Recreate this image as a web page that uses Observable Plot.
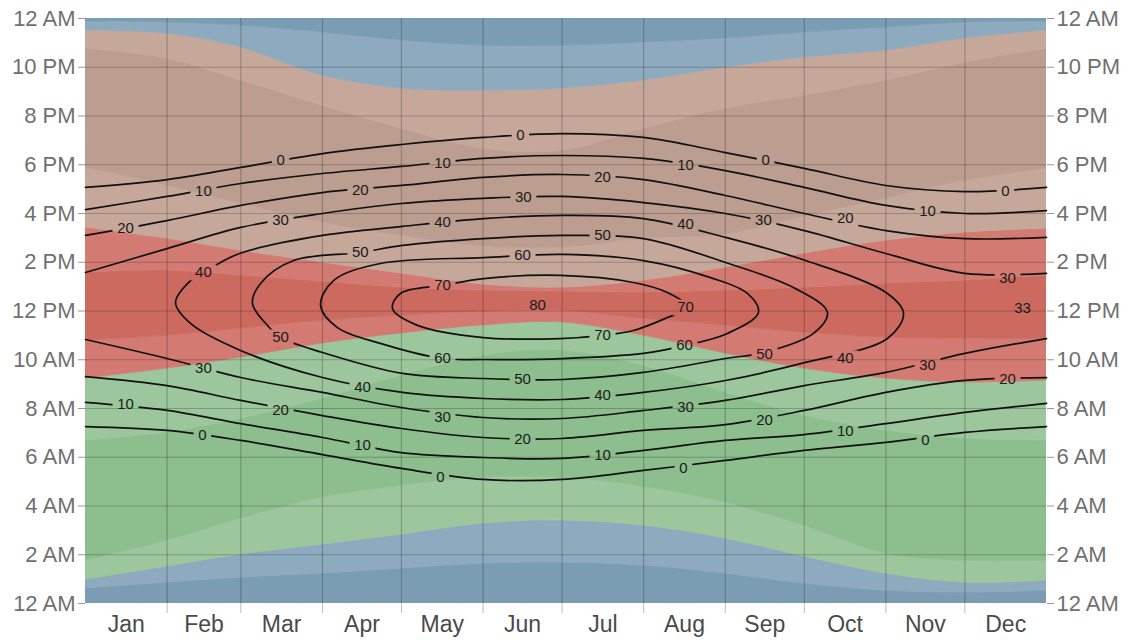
<!DOCTYPE html>
<html><head><meta charset="utf-8">
<script src="https://cdn.jsdelivr.net/npm/d3@7"></script>
<script src="https://cdn.jsdelivr.net/npm/@observablehq/plot@0.6"></script>
<style>
html,body{margin:0;padding:0;background:#fff;}
#chart{position:absolute;left:0;top:0;}
</style></head><body><div id="chart"></div>
<script>
// ---------- axis data ----------
const monthNames = ["Jan","Feb","Mar","Apr","May","Jun","Jul","Aug","Sep","Oct","Nov","Dec"];
const monthStarts = [0,31,59,90,120,151,181,212,243,273,304,334,365];
const monthMids = [15.5,45,74.5,105,135.5,166,196.5,227.5,258,288.5,319,349.5];
const monthBoundaries = [31,59,90,120,151,181,212,243,273,304,334];
const hourTicks = [0,2,4,6,8,10,12,14,16,18,20,22,24];
const hourLabels = ["12 AM","2 AM","4 AM","6 AM","8 AM","10 AM","12 PM","2 PM","4 PM","6 PM","8 PM","10 PM","12 AM"];

// ---------- azimuth band boundaries (hour of day, at each month start) ----------
const bN_NEa  = [0.62,0.86,1.07,1.23,1.44,1.64,1.68,1.56,1.23,0.82,0.53,0.45,0.53];
const bNEa_NEb= [0.98,1.52,2.01,2.42,2.83,3.28,3.41,3.20,2.67,1.93,1.23,0.86,0.94];
const bNEb_E  = [1.76,2.58,3.49,4.35,4.84,5.17,5.17,4.80,4.14,3.20,2.05,1.76,1.76];
const bE_SEa  = [6.69,7.02,7.59,8.41,9.35,10.17,10.38,9.76,8.66,7.71,7.10,6.77,6.69];
const bSEa_SEb= [9.23,9.64,10.09,10.67,11.08,11.41,11.53,10.99,10.26,9.64,9.23,9.07,9.15];
const bSEb_S  = [10.79,10.99,11.28,11.61,11.82,11.98,12.02,11.69,11.41,11.12,10.91,10.87,10.87];
const bS_SWa  = [13.58,13.66,13.46,13.21,12.96,12.84,12.80,12.76,12.84,12.96,13.13,13.25,13.46];
const bSWa_SWb= [15.43,14.97,14.48,13.99,13.54,13.09,12.96,13.25,13.78,14.36,14.89,15.22,15.38];
const bSWb_W  = [17.89,17.15,16.41,15.63,15.10,14.65,14.61,14.97,15.14,15.88,16.62,17.35,17.85];
const bW_NWa  = [22.77,22.36,21.46,20.43,19.49,18.67,18.58,19.49,20.31,20.84,21.46,22.19,22.77];
const bNWa_NWb= [23.51,23.38,22.81,21.66,21.13,21.05,21.13,21.46,21.99,22.40,22.69,23.18,23.51];
const bNWb_N  = [23.88,23.84,23.71,23.43,23.10,22.89,22.89,23.02,23.18,23.43,23.63,23.84,23.88];

const bandColors = ["#7b9db4","#8eaabf","#9cc79c","#8dbe8d","#9cc79c","#d37b73","#cc6a5f","#d37b73","#c6a89b","#bb9e8f","#c6a89b","#8eaabf","#7b9db4"];

// ---------- solar elevation contours (hour of day) ----------
const elev0Morning  = [7.26,7.10,6.69,6.11,5.54,5.09,5.09,5.46,5.87,6.28,6.61,7.02,7.26];
const elev0Evening  = [17.07,17.39,17.89,18.46,18.83,19.12,19.28,19.12,18.50,17.85,17.15,16.90,17.07];
const elev10Morning = [8.25,7.92,7.38,6.81,6.19,5.99,5.95,6.28,6.69,6.93,7.38,7.84,8.21];
const elev10Evening = [16.16,16.70,17.23,17.64,17.93,18.26,18.38,18.26,17.76,17.07,16.33,16.00,16.12];
const elev20Morning = [9.31,8.94,8.33,7.71,7.18,6.81,6.77,7.10,7.34,7.92,8.66,9.15,9.27];
const elev20Evening = [15.10,15.71,16.33,16.86,17.15,17.48,17.60,17.39,16.74,16.00,15.30,14.97,15.02];
const elev30Morning = [10.83,10.05,9.27,8.66,8.04,7.63,7.59,7.92,8.33,8.94,9.48,10.26,10.87];
const elev30Evening = [13.58,14.56,15.43,16.00,16.41,16.62,16.70,16.45,16.00,15.30,14.36,13.54,13.54];
const elev40Loop = [[34.2,12.35],[39.9,11.49],[58.9,10.38],[90.0,9.27],[120.4,8.66],[151.2,8.41],[181.2,8.37],[211.9,8.66],[243.1,9.15],[273.5,9.89],[304.6,10.87],[310.7,11.90],[304.6,12.72],[273.5,14.07],[243.1,15.02],[211.9,15.79],[181.2,15.92],[151.2,15.79],[120.4,15.47],[90.0,15.10],[58.5,14.36],[44.8,13.58],[39.9,13.25]];
const elev50Loop = [[63.4,12.31],[69.1,11.41],[74.1,10.91],[90.0,10.30],[120.4,9.44],[151.2,9.23],[181.2,9.19],[211.9,9.48],[243.1,10.05],[257.9,10.30],[276.5,11.08],[281.8,11.94],[268.9,12.96],[243.1,13.99],[211.9,14.97],[181.2,15.10],[151.2,14.97],[120.4,14.69],[104.4,14.40],[79.0,14.07],[66.5,13.13]];
const elev60Loop = [[89.3,12.23],[95.7,11.32],[112.0,10.67],[135.6,10.05],[151.2,10.01],[181.2,10.05],[211.9,10.26],[227.5,10.58],[243.8,11.08],[255.6,11.94],[251.4,12.72],[237.4,13.37],[211.9,14.07],[181.2,14.32],[151.2,14.19],[112.0,13.95],[94.2,13.25]];
const elev70Loop = [[116.6,12.10],[126.1,11.41],[151.2,10.91],[180.4,10.87],[196.4,11.00],[208.1,11.20],[221.0,11.73],[229.0,12.14],[221.0,12.76],[208.1,13.17],[180.4,13.46],[151.2,13.33],[135.6,13.05],[119.6,12.72]];

// contour labels: [day, hour, text]
const contourLabels = [
  [44.4,6.89,"0"],[134.8,5.17,"0"],[227.1,5.54,"0"],[319.0,6.69,"0"],
  [15.2,8.16,"10"],[105.2,6.48,"10"],[196.4,6.07,"10"],[288.6,7.06,"10"],
  [74.1,7.92,"20"],[166.0,6.73,"20"],[257.9,7.51,"20"],[350.2,9.19,"20"],
  [44.8,9.64,"30"],[135.6,7.63,"30"],[227.9,8.04,"30"],[319.8,9.76,"30"],
  [105.2,8.86,"40"],[196.4,8.53,"40"],[288.6,10.05,"40"],
  [74.1,10.91,"50"],[166.0,9.19,"50"],[257.9,10.22,"50"],
  [135.6,10.05,"60"],[227.5,10.58,"60"],
  [196.4,10.99,"70"],
  [74.1,18.17,"0"],[165.2,19.20,"0"],[258.3,18.17,"0"],[349.4,16.90,"0"],
  [44.8,16.90,"10"],[135.6,18.05,"10"],[227.9,17.97,"10"],[319.8,16.08,"10"],
  [15.2,15.38,"20"],[104.4,16.94,"20"],[196.4,17.48,"20"],[288.6,15.79,"20"],
  [74.1,15.71,"30"],[166.3,16.66,"30"],[257.5,15.71,"30"],[350.2,13.33,"30"],
  [44.8,13.58,"40"],[135.6,15.63,"40"],[227.9,15.55,"40"],
  [104.4,14.40,"50"],[196.4,15.10,"50"],
  [166.0,14.28,"60"],
  [135.6,13.05,"70"],[227.9,12.14,"70"]
];
const peakLabels = [[171.7,12.23,"80"],[355.9,12.10,"33"]];

// ---------- build tables ----------
const boundaries = [null,bN_NEa,bNEa_NEb,bNEb_E,bE_SEa,bSEa_SEb,bSEb_S,bS_SWa,bSWa_SWb,bSWb_W,bW_NWa,bNWa_NWb,bNWb_N,null];
const bandRows = monthStarts.map((d,i) => {
  const r = {day: d};
  boundaries.forEach((b,k) => { r["b"+k] = b === null ? (k === 0 ? 0 : 24) : b[i]; });
  return r;
});
const branchRows = (arr) => monthStarts.map((d,i) => ({day: d, h: arr[i]}));
const branches = [elev0Morning,elev0Evening,elev10Morning,elev10Evening,elev20Morning,elev20Evening,elev30Morning,elev30Evening];
const loops = [elev40Loop,elev50Loop,elev60Loop,elev70Loop];
const hourLabel = new Map(hourTicks.map((h,i)=>[h,hourLabels[i]]));
const monthLabel = new Map(monthMids.map((d,i)=>[d,monthNames[i]]));

const marks = [];
bandColors.forEach((c,k) => {
  marks.push(Plot.areaY(bandRows, {x:"day", y1:"b"+k, y2:"b"+(k+1), fill:c, stroke:c, strokeWidth:0.8, curve:"catmull-rom", clip:true}));
});
marks.push(Plot.gridX(monthBoundaries, {stroke:"#000", strokeOpacity:0.22, strokeWidth:1.2}));
marks.push(Plot.gridY(hourTicks.slice(1,-1), {stroke:"#000", strokeOpacity:0.22, strokeWidth:1.2}));
branches.forEach(b => marks.push(Plot.line(branchRows(b), {x:"day", y:"h", stroke:"#111", strokeWidth:1.7, curve:"catmull-rom", className:"contour"})));
loops.forEach(l => marks.push(Plot.line(l, {x:d=>d[0], y:d=>d[1], stroke:"#111", strokeWidth:1.7, curve:"catmull-rom-closed", className:"contour"})));
marks.push(Plot.text(contourLabels.concat(peakLabels), {x:d=>d[0], y:d=>d[1], text:d=>d[2], fontSize:15, fill:"#1a1a1a"}));
marks.push(Plot.axisX(monthBoundaries, {tickSize:10, tickFormat:()=>"", stroke:"#bbb", label:null}));
marks.push(Plot.axisX(monthMids, {tickSize:0, tickPadding:12, tickFormat:d=>monthLabel.get(d), fontSize:23, fill:"#4a4a4a", label:null}));
marks.push(Plot.axisY(hourTicks, {anchor:"left", tickSize:7, tickPadding:3, tickFormat:d=>hourLabel.get(d), fontSize:22, fill:"#707070", stroke:"#999", label:null}));
marks.push(Plot.axisY(hourTicks, {anchor:"right", tickSize:7, tickPadding:3, tickFormat:d=>hourLabel.get(d), fontSize:22, fill:"#707070", stroke:"#999", label:null}));

const chart = Plot.plot({
  width:1132, height:640,
  marginTop:18, marginBottom:37, marginLeft:85, marginRight:86,
  x:{domain:[0,365], label:null},
  y:{domain:[0,24], label:null},
  style:{fontFamily:"Arial, 'Liberation Sans', sans-serif", background:"#fff", overflow:"visible"},
  marks
});
document.getElementById("chart").append(chart);

// gaps in contour lines under their labels (even-odd clip path)
try {
  const sx = chart.scale("x"), sy = chart.scale("y");
  const NS = "http://www.w3.org/2000/svg";
  let d = "M-10,-10H1142V650H-10Z";
  contourLabels.forEach(([dd,h,t]) => {
    const w = 8.5*t.length + 9, cx = sx.apply(dd), cy = sy.apply(h);
    d += `M${cx - w/2},${cy - 8}h${w}v16h${-w}Z`;
  });
  const defs = document.createElementNS(NS,"defs");
  const cp = document.createElementNS(NS,"clipPath");
  cp.setAttribute("id","gapclip");
  cp.setAttribute("clipPathUnits","userSpaceOnUse");
  const p = document.createElementNS(NS,"path");
  p.setAttribute("d", d);
  p.setAttribute("clip-rule","evenodd");
  cp.append(p);
  defs.append(cp);
  chart.append(defs);
  chart.querySelectorAll("g.contour").forEach(g => {
    g.querySelectorAll("path").forEach(path => path.setAttribute("clip-path","url(#gapclip)"));
  });
} catch (e) { console.error(e); }
</script>
</body></html>
